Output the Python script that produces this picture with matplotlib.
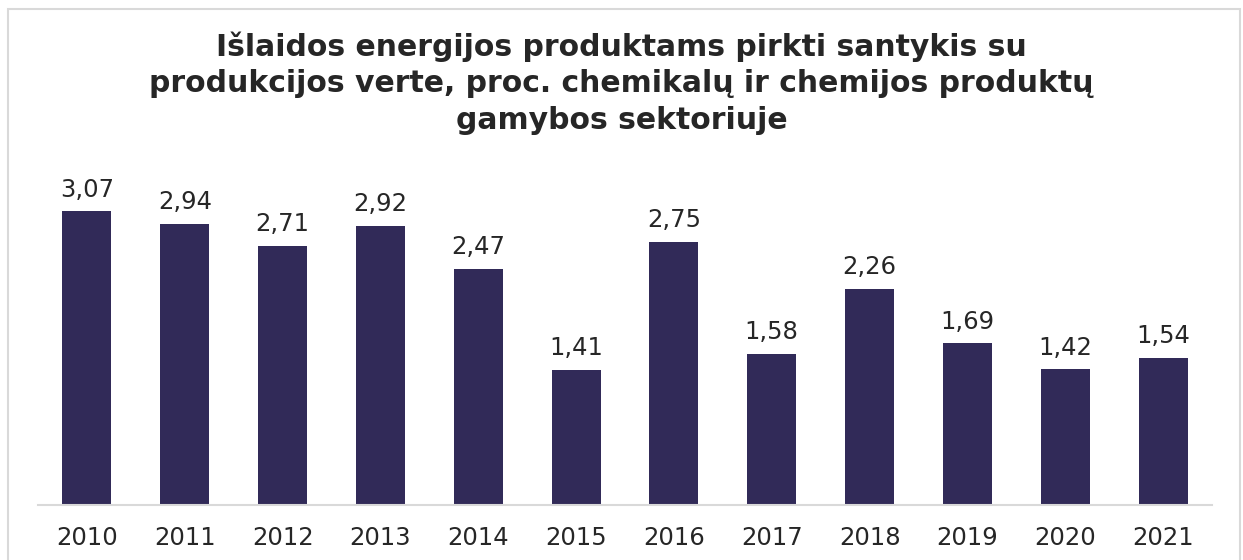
import matplotlib
matplotlib.use('Agg')
import matplotlib.pyplot as plt
from matplotlib.patches import Rectangle

years = ['2010', '2011', '2012', '2013', '2014', '2015',
         '2016', '2017', '2018', '2019', '2020', '2021']
values = [3.07, 2.94, 2.71, 2.92, 2.47, 1.41, 2.75, 1.58, 2.26, 1.69, 1.42, 1.54]

title = ('Išlaidos energijos produktams pirkti santykis su\n'
         'produkcijos verte, proc. chemikalų ir chemijos produktų\n'
         'gamybos sektoriuje')

plt.rcParams['font.family'] = ['DejaVu Sans']
text_color = '#262626'
bar_color = '#312a58'

fig = plt.figure(figsize=(12.43, 5.6), dpi=100)
fig.patch.set_facecolor('white')
fig.patches.append(Rectangle((8 / 1243, -0.05), 1232 / 1243, 1.05 - 9 / 560,
                             transform=fig.transFigure, fill=False,
                             edgecolor='#d9d9d9', linewidth=1.5))

ax = fig.add_axes([38 / 1243, 55 / 560, 1174 / 1243, 335 / 560])
x = range(len(years))
bars = ax.bar(x, values, width=0.5, color=bar_color)
for b, v in zip(bars, values):
    ax.text(b.get_x() + b.get_width() / 2, v + 0.1, f'{v:.2f}'.replace('.', ','),
            ha='center', va='bottom', fontsize=17.5, color=text_color)

ax.set_xlim(-0.5, len(years) - 0.5)
ax.set_ylim(0, 3.5)
ax.set_xticks(list(x))
ax.set_xticklabels(years, fontsize=17.5, color=text_color)
ax.tick_params(axis='x', length=0, pad=15)
ax.set_yticks([])
for s in ['top', 'right', 'left']:
    ax.spines[s].set_visible(False)
ax.spines['bottom'].set_color('#d9d9d9')
ax.spines['bottom'].set_linewidth(1.5)

fig.text(0.5, 1 - 83 / 560, title, ha='center', va='center', fontsize=21.5,
         fontweight='bold', color=text_color, linespacing=1.32)

fig.savefig('out.png', dpi=100)
